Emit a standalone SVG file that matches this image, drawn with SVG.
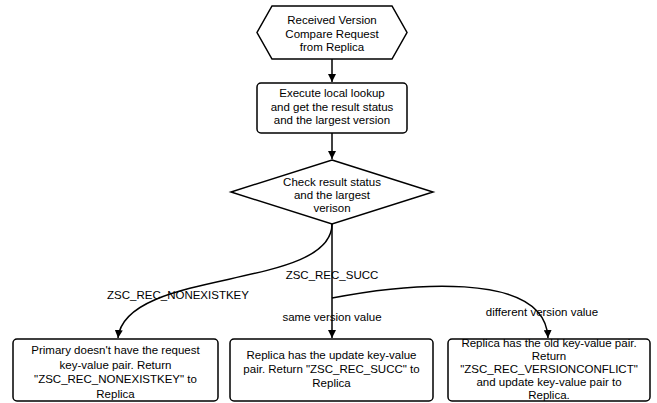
<svg xmlns="http://www.w3.org/2000/svg" width="657" height="403" viewBox="0 0 657 403">
<defs>
<style>
.s{fill:#fff;stroke:#000;stroke-width:1.5}
.c{fill:none;stroke:#000;stroke-width:1.5}
text{font-family:"Liberation Sans",Arial,sans-serif;font-size:11.5px;fill:#000;text-anchor:middle}
</style>
<marker id="a" viewBox="0 0 10 10" refX="10" refY="5" markerWidth="8" markerHeight="8" markerUnits="userSpaceOnUse" orient="auto">
<path d="M0,0 L10,5 L0,10 Z" fill="#000"/>
</marker>
</defs>
<rect width="657" height="403" fill="#fff"/>
<g id="connectors">
<path class="c" d="M332,59 L332,82" marker-end="url(#a)"/>
<path class="c" d="M332,133 L332,159" marker-end="url(#a)"/>
<path class="c" d="M332,224 L332,338" marker-end="url(#a)"/>
<path class="c" d="M332,224 C332,290 125,268 118,338" marker-end="url(#a)"/>
<path class="c" d="M332,298 C400,285 545,268 548,338" marker-end="url(#a)"/>
<text x="332" y="279">ZSC_REC_SUCC</text>
<text x="178" y="299">ZSC_REC_NONEXISTKEY</text>
<text x="332" y="321">same version value</text>
<text x="542" y="316">different version value</text>
</g>
<g id="start">
<path class="s" d="M272,6 L392,6 L407,32.5 L392,59 L272,59 L257,32.5 Z"/>
<text x="332" y="24">Received Version</text>
<text x="332" y="37.5">Compare Request</text>
<text x="332" y="51">from Replica</text>
</g>
<g id="lookup">
<rect class="s" x="257" y="83" width="150" height="50" rx="4"/>
<text x="332" y="97">Execute local lookup</text>
<text x="332" y="111">and get the result status</text>
<text x="332" y="124">and the largest version</text>
</g>
<g id="check">
<path class="s" d="M332,160 L433,192 L332,224 L231,192 Z"/>
<text x="332" y="186">Check result status</text>
<text x="332" y="199">and the largest</text>
<text x="332" y="212">verison</text>
</g>
<g id="nonexist">
<rect class="s" x="13" y="339" width="205" height="62" rx="4"/>
<text x="115.5" y="354">Primary doesn't have the request</text>
<text x="115.5" y="368.5">key-value pair. Return</text>
<text x="115.5" y="383">"ZSC_REC_NONEXISTKEY" to</text>
<text x="115.5" y="397.5">Replica</text>
</g>
<g id="succ">
<rect class="s" x="230" y="339" width="203" height="62" rx="4"/>
<text x="331.5" y="359">Replica has the update key-value</text>
<text x="331.5" y="373">pair. Return "ZSC_REC_SUCC" to</text>
<text x="331.5" y="387">Replica</text>
</g>
<g id="conflict">
<rect class="s" x="448" y="339" width="202" height="62" rx="4"/>
<text x="549" y="347">Replica has the old key-value pair.</text>
<text x="549" y="360">Return</text>
<text x="549" y="373">"ZSC_REC_VERSIONCONFLICT"</text>
<text x="549" y="386">and update key-value pair to</text>
<text x="549" y="399">Replica.</text>
</g>
</svg>
